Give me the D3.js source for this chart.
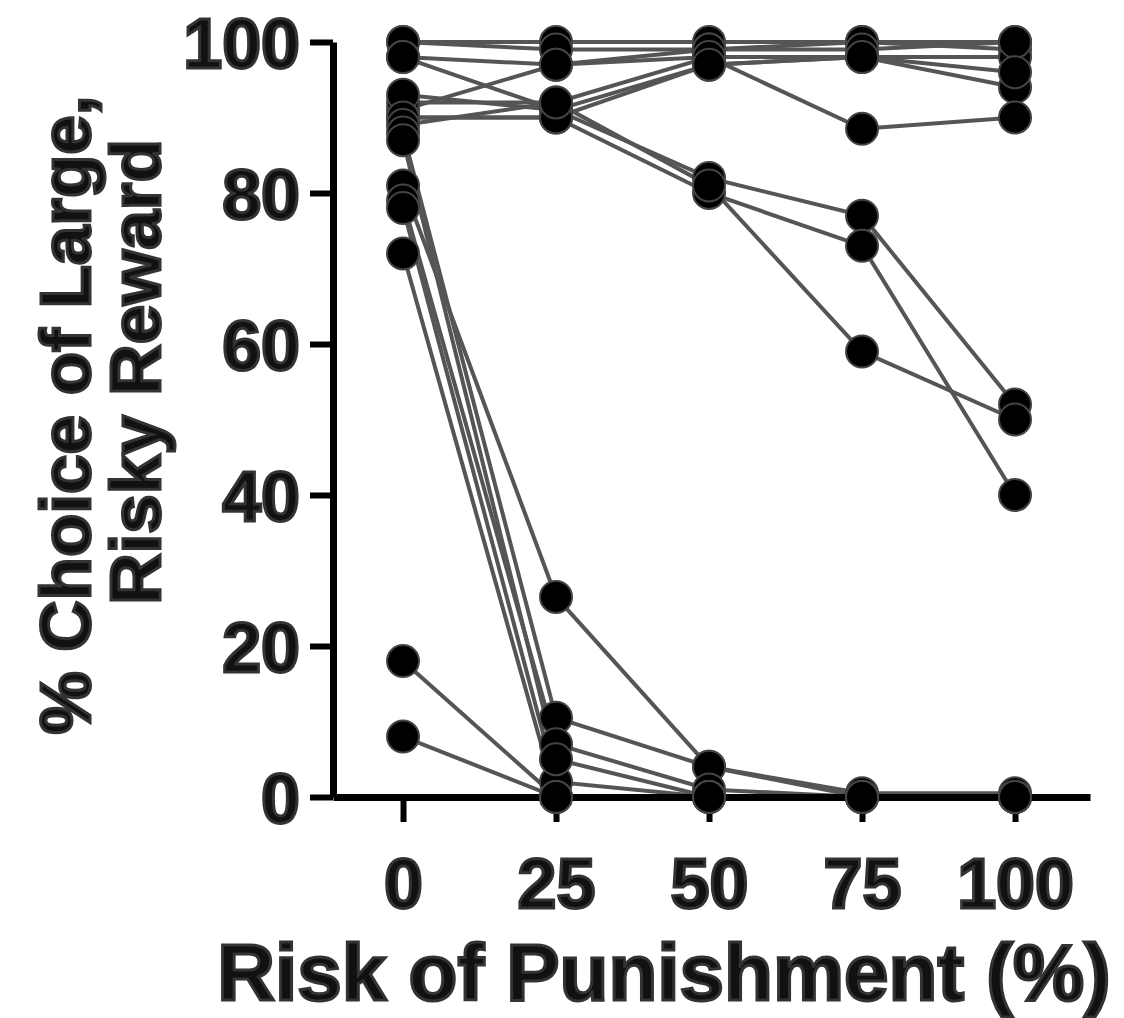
<!DOCTYPE html>
<html>
<head>
<meta charset="utf-8">
<script src="https://cdn.jsdelivr.net/npm/d3@7"></script>
<style>
  body { margin: 0; background: #fff; }
  text { font-family: "Liberation Sans", Arial, sans-serif; font-weight: bold; }
</style>
</head>
<body>
<div id="container"></div>
<script>
// risk of punishment levels (%)
const risks = [0, 25, 50, 75, 100];

// one array per subject: % choice of large, risky reward at each risk level
const subj01 = [100, 100, 100, 100, 100];
const subj02 = [100, 99, 99, 100, 99];
const subj03 = [98, 97, 98, 98, 98];
const subj04 = [98, 91, 97, 98, 94];
const subj05 = [91, 97, 99, 99, 100];
const subj06 = [92, 92, 98, 88.5, 90];
const subj07 = [90, 90, 97, 98, 96];
const subj08 = [93, 91, 82, 77, 52];
const subj09 = [90, 90, 80, 73, 40];
const subj10 = [89, 92, 81, 59, 50];
const subj11 = [88, 10.5, 4, 0.5, 0.5];
const subj12 = [81, 26.5, 4, 0, 0];
const subj13 = [79, 7, 1, 0, 0];
const subj14 = [78, 2, 0, 0, 0];
const subj15 = [72, 0, 0, 0, 0];
const subj16 = [87, 5, 0, 0, 0];
const subj17 = [18, 0, 0, 0, 0];
const subj18 = [8, 0, 0, 0, 0];

const subjects = [subj01, subj02, subj03, subj04, subj05, subj06, subj07, subj08, subj09,
  subj10, subj11, subj12, subj13, subj14, subj15, subj16, subj17, subj18];

const yTicks = [0, 20, 40, 60, 80, 100];
const xTitle = 'Risk of Punishment (%)';
const yTitle = ['% Choice of Large,', 'Risky Reward'];

const width = 1124, height = 1018;

const svg = d3.select('#container')
  .append('svg')
  .attr('width', width)
  .attr('height', height);

// axis line runs from 333 to 1090, the 0 point sits at 403 and 100 at 1015
const xScale = d3.scaleLinear()
  .domain([-11.44, 112.25])
  .range([333, 1090]);
const yScale = d3.scaleLinear()
  .domain([0, 100])
  .range([797, 42]);

const line = d3.line()
  .x((d, i) => xScale(risks[i]))
  .y(d => yScale(d));

svg.append('g')
  .selectAll('path')
  .data(subjects)
  .join('path')
  .attr('fill', 'none')
  .attr('stroke', '#555')
  .attr('stroke-width', 4)
  .attr('d', line);

// axes
const yAxis = svg.append('g')
  .attr('transform', `translate(${xScale(-11.44)},0)`)
  .call(d3.axisLeft(yScale).tickValues(yTicks).tickSize(23).tickSizeOuter(0).tickPadding(10));
const xAxis = svg.append('g')
  .attr('transform', `translate(0,${yScale(0)})`)
  .call(d3.axisBottom(xScale).tickValues(risks).tickSize(25).tickSizeOuter(0).tickPadding(36));

[yAxis, xAxis].forEach(ax => {
  ax.select('.domain').attr('stroke', '#000').attr('stroke-width', 7);
  ax.selectAll('.tick line').attr('stroke', '#000').attr('stroke-width', 6);
  ax.selectAll('.tick text')
    .attr('fill', '#111')
    .attr('stroke', '#333')
    .attr('stroke-width', 3)
    .style('font-size', '70px');
});
yAxis.selectAll('.tick text').attr('dy', '0.36em');

// markers
svg.append('g')
  .selectAll('g')
  .data(subjects)
  .join('g')
  .selectAll('circle')
  .data(d => d)
  .join('circle')
  .attr('cx', (d, i) => xScale(risks[i]))
  .attr('cy', d => yScale(d))
  .attr('r', 16)
  .attr('fill', '#000')
  .attr('stroke', '#444')
  .attr('stroke-width', 2);

// titles
svg.append('text')
  .attr('x', 664)
  .attr('y', 1000)
  .attr('text-anchor', 'middle')
  .attr('fill', '#111')
  .attr('stroke', '#333')
  .attr('stroke-width', 3)
  .style('font-size', '80px')
  .text(xTitle);

svg.append('g')
  .selectAll('text')
  .data(yTitle)
  .join('text')
  .attr('transform', (d, i) => `translate(${[90, 160][i]},${[415, 372][i]}) rotate(-90)`)
  .attr('text-anchor', 'middle')
  .attr('fill', '#111')
  .attr('stroke', '#333')
  .attr('stroke-width', 3)
  .style('font-size', '71px')
  .text(d => d);
</script>
</body>
</html>
